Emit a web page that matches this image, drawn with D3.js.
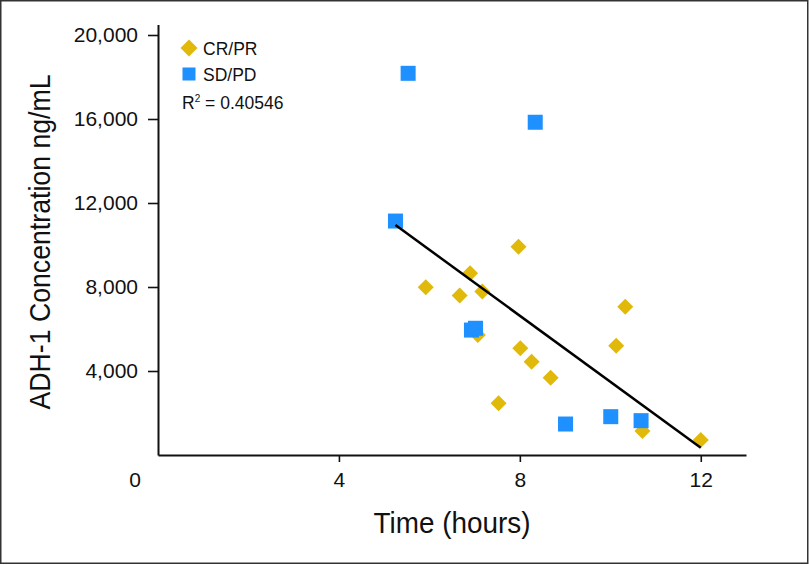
<!DOCTYPE html>
<html><head><meta charset="utf-8">
<script src="https://cdn.jsdelivr.net/npm/d3@7/dist/d3.min.js"></script>
<style>
html,body{margin:0;padding:0;background:#fff;}
svg{display:block;}
</style></head>
<body>
<script>
// ---- data ----
const crprTime = [7.97, 6.90, 5.92, 6.67, 7.17, 10.33, 7.07, 10.13, 8.01, 8.26, 8.68, 7.53, 10.71, 12.0];
const crprConc = [9920, 8650, 7985, 7590, 7780, 7060, 5710, 5205, 5080, 4445, 3680, 2460, 1145, 715];
const sdpdTime = [5.53, 8.34, 5.25, 6.93, 7.02, 9.01, 10.01, 10.68];
const sdpdConc = [18175, 15845, 11140, 5950, 6035, 1475, 1825, 1635];
const trendTime = [5.25, 12.0];
const trendConc = [10950, 350];
const xTicks = [4, 8, 12];
const yTicks = [4000, 8000, 12000, 16000, 20000];
const legendLabels = ["CR/PR", "SD/PD"];
const rSquared = "0.40546";
const colors = {crpr: "#E1B90B", sdpd: "#1E90FF"};

const W = 809, H = 565;
const svg = d3.select("body").append("svg").attr("width", W).attr("height", H);

// frame
svg.append("rect").attr("x", 0.75).attr("y", 0.75).attr("width", W - 2).attr("height", H - 2.5)
  .attr("fill", "#fff").attr("stroke", "#333").attr("stroke-width", 1.5);

const x = d3.scaleLinear().domain([0, 13]).range([158, 746]);
const y = d3.scaleLinear().domain([0, 20500]).range([455, 24.5]);

const tickFont = "'Liberation Sans', Arial, sans-serif";
const titleFont = "'Liberation Sans', Arial, sans-serif";

// axes
const xAxis = svg.append("g").attr("transform", `translate(0,${y(0)})`)
  .call(d3.axisBottom(x).tickValues(xTicks).tickSize(7).tickSizeOuter(0).tickPadding(10).tickFormat(d3.format("d")));
const yAxis = svg.append("g").attr("transform", `translate(${x(0)},0)`)
  .call(d3.axisLeft(y).tickValues(yTicks).tickSize(10).tickSizeOuter(0).tickPadding(10).tickFormat(d3.format(",")));
[xAxis, yAxis].forEach(g => {
  g.select(".domain").attr("stroke", "#111").attr("stroke-width", 2);
  g.selectAll(".tick line").attr("stroke", "#111").attr("stroke-width", 1.6);
  g.selectAll("text").attr("font-family", tickFont).attr("font-size", 21).attr("fill", "#111");
});
// origin "0" label
svg.append("text").attr("x", x(0) - 23).attr("y", y(0) + 32)
  .attr("text-anchor", "middle").attr("font-family", tickFont).attr("font-size", 21).attr("fill", "#111").text("0");

// axis titles (condensed look via horizontal scaling)
svg.append("text").attr("transform", `translate(50,242) rotate(-90) scale(0.89,1)`)
  .attr("text-anchor", "middle").attr("font-family", titleFont).attr("font-size", 30).attr("fill", "#111")
  .text("ADH-1 Concentration ng/mL");
svg.append("text").attr("transform", `translate(452,533) scale(0.93,1)`)
  .attr("text-anchor", "middle").attr("font-family", titleFont).attr("font-size", 30).attr("fill", "#111")
  .text("Time (hours)");

// points
const diamond = d3.symbol().type(d3.symbolSquare).size(128);
svg.append("g").selectAll("path").data(d3.range(crprTime.length)).join("path")
  .attr("d", diamond)
  .attr("transform", i => `translate(${x(crprTime[i])},${y(crprConc[i])}) rotate(45)`)
  .attr("fill", colors.crpr);
svg.append("g").selectAll("rect").data(d3.range(sdpdTime.length)).join("rect")
  .attr("x", i => x(sdpdTime[i]) - 7.5).attr("y", i => y(sdpdConc[i]) - 7.5)
  .attr("width", 15).attr("height", 15).attr("fill", colors.sdpd);

// trend line
svg.append("line")
  .attr("x1", x(trendTime[0])).attr("y1", y(trendConc[0]))
  .attr("x2", x(trendTime[1])).attr("y2", y(trendConc[1]))
  .attr("stroke", "#000").attr("stroke-width", 2.5);

// legend
const lg = svg.append("g").attr("font-family", tickFont).attr("font-size", 17.5).attr("fill", "#111");
lg.append("path").attr("d", d3.symbol().type(d3.symbolSquare).size(144)).attr("transform", "translate(189,48) rotate(45)").attr("fill", colors.crpr);
lg.append("text").attr("x", 203).attr("y", 55).text(legendLabels[0]);
lg.append("rect").attr("x", 182.5).attr("y", 67.5).attr("width", 13).attr("height", 13).attr("fill", colors.sdpd);
lg.append("text").attr("x", 203).attr("y", 81).text(legendLabels[1]);
const rt = lg.append("text").attr("x", 182).attr("y", 109);
rt.append("tspan").text("R");
rt.append("tspan").attr("font-size", 10).attr("dy", -7).text("2");
rt.append("tspan").attr("dy", 7).text(" = " + rSquared);
</script>
</body></html>
